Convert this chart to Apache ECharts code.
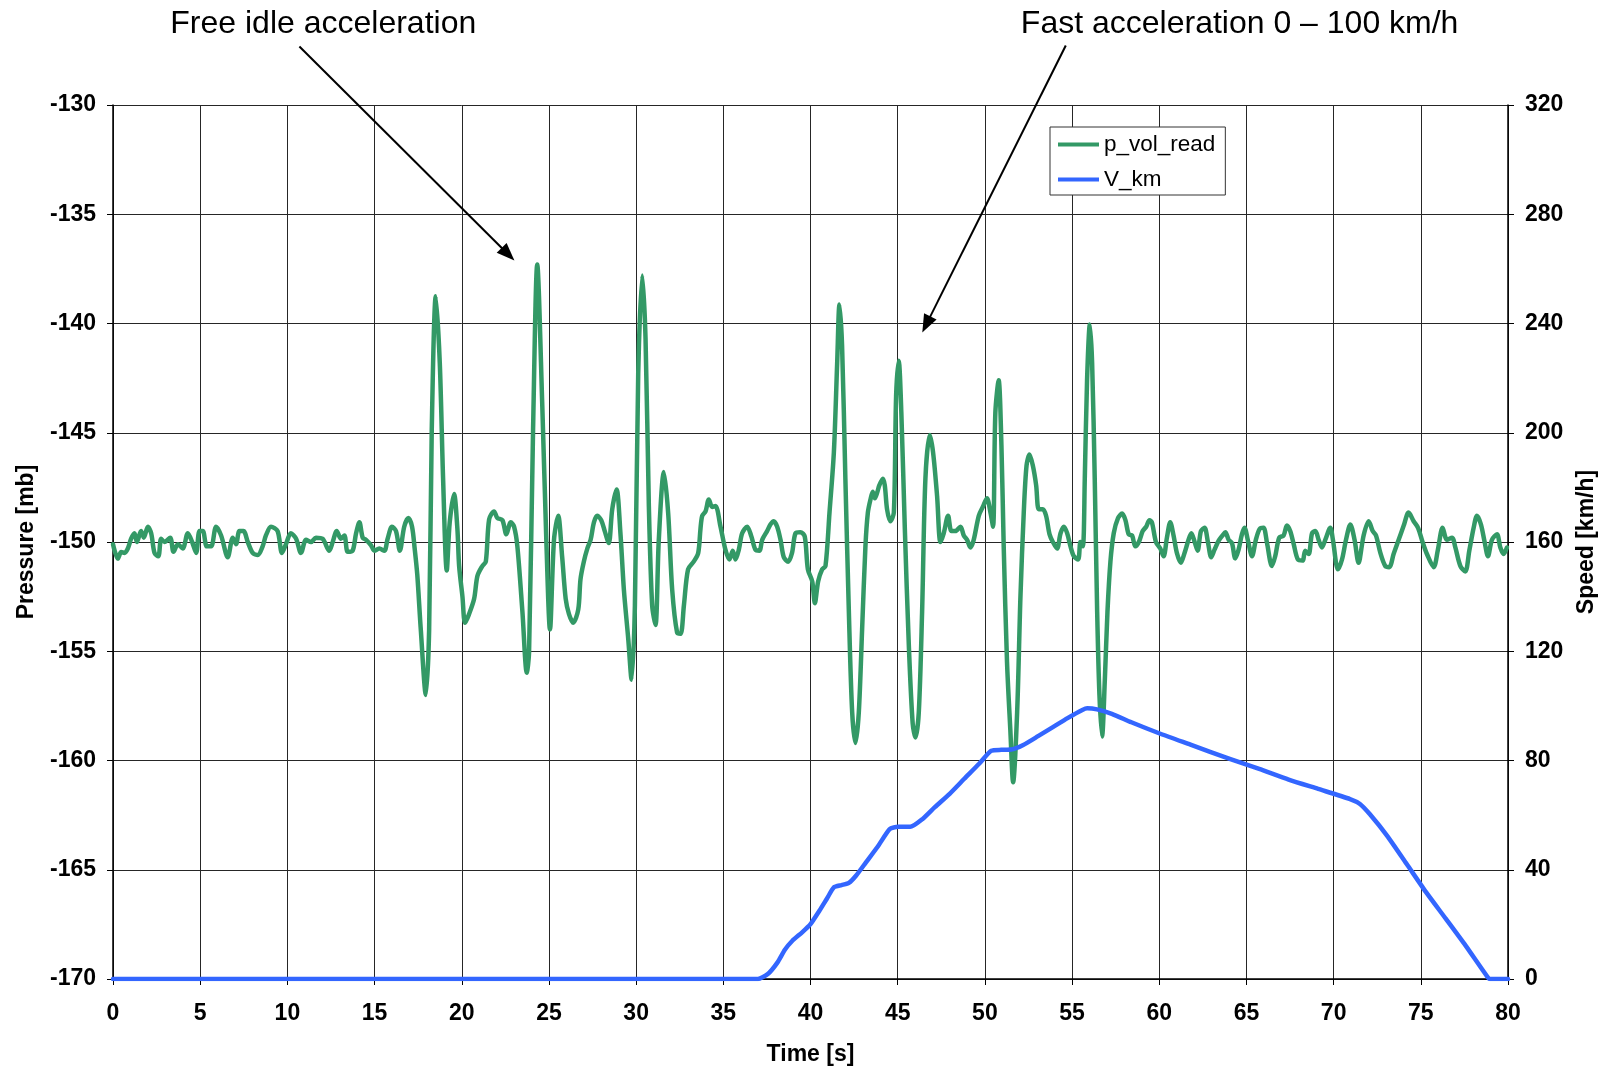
<!DOCTYPE html>
<html><head><meta charset="utf-8">
<script src="https://cdn.jsdelivr.net/npm/echarts@6/dist/echarts.min.js"></script>
<style>html,body{margin:0;padding:0;background:#fff}#c{width:1606px;height:1071px}</style>
</head><body><div id="c"></div>
<script>
// ---- data: p_vol_read (time [s], pressure [mb]) ----
const pTime = [0,0.28,0.47,0.66,0.85,1.04,1.23,1.37,1.61,1.77,2.0,2.19,2.38,2.6,2.76,2.95,3.28,3.47,3.72,4.0,4.29,4.54,4.77,4.96,5.15,5.38,5.63,5.91,6.2,6.58,6.87,7.06,7.25,7.48,7.73,8.01,8.3,8.58,8.77,9.06,9.44,9.69,9.92,10.2,10.5,10.78,11.07,11.36,11.64,12.02,12.4,12.6,12.83,13.07,13.27,13.46,13.74,13.94,14.13,14.32,14.51,14.8,14.99,15.27,15.56,15.75,16.0,16.23,16.45,16.7,16.94,17.15,17.3,17.45,17.65,17.94,18.13,18.28,18.51,18.74,18.93,19.14,19.31,19.56,19.75,19.85,20.04,20.19,20.42,20.71,20.9,21.18,21.38,21.57,21.85,22.04,22.33,22.56,22.81,23.0,23.19,23.48,23.73,23.86,24.09,24.33,24.62,24.85,25.06,25.29,25.53,25.76,25.96,26.15,26.39,26.68,26.81,27.0,27.2,27.39,27.58,27.77,28.0,28.2,28.43,28.63,28.88,29.1,29.3,29.55,29.74,29.93,30.12,30.35,30.54,30.73,30.92,31.11,31.3,31.59,31.84,32.07,32.35,32.55,32.74,32.98,33.3,33.56,33.69,33.79,33.98,34.17,34.36,34.55,34.84,35.12,35.35,35.54,35.7,35.89,36.08,36.37,36.61,36.84,37.07,37.23,37.51,37.7,37.89,38.09,38.28,38.47,38.72,38.94,39.14,39.42,39.67,39.85,40.1,40.25,40.44,40.67,40.86,41.09,41.34,41.53,41.66,41.81,42.0,42.2,42.39,42.58,42.77,42.96,43.15,43.29,43.44,43.57,43.69,43.82,43.95,44.15,44.26,44.39,44.58,44.78,44.91,45.06,45.21,45.41,45.64,45.86,46.02,46.21,46.4,46.59,46.84,47.03,47.26,47.45,47.64,47.89,48.08,48.31,48.6,48.79,48.98,49.17,49.36,49.65,49.88,50.12,50.32,50.47,50.6,50.79,50.95,51.08,51.27,51.46,51.62,51.85,52.04,52.23,52.39,52.56,52.75,52.94,53.09,53.32,53.51,53.71,53.9,54.14,54.34,54.53,54.72,54.91,55.1,55.35,55.48,55.62,55.73,55.86,56.02,56.15,56.3,56.44,56.57,56.72,56.88,57.03,57.2,57.39,57.64,57.87,58.06,58.25,58.44,58.63,58.83,59.05,59.25,59.44,59.58,59.81,60.06,60.25,60.44,60.63,60.82,61.01,61.24,61.45,61.68,61.84,62.03,62.2,62.39,62.6,62.79,62.98,63.17,63.4,63.63,63.79,63.98,64.17,64.36,64.55,64.74,64.89,65.09,65.32,65.54,65.76,65.98,66.18,66.46,66.65,66.88,67.13,67.32,67.51,67.71,67.95,68.22,68.37,68.57,68.76,68.95,69.14,69.33,69.52,69.81,69.96,70.25,70.48,70.71,70.96,71.2,71.43,71.72,72.01,72.24,72.43,72.68,72.96,73.19,73.44,73.73,74.02,74.3,74.59,74.84,75.1,75.35,75.74,75.98,76.25,76.5,76.79,76.98,77.27,77.55,77.78,78.03,78.22,78.45,78.66,78.85,79.08,79.37,79.56,79.75,79.94];
const pValue = [-150.1,-150.76,-150.46,-150.5,-150.3,-149.85,-149.6,-150.0,-149.5,-149.8,-149.3,-149.6,-150.5,-150.65,-149.85,-150.0,-149.8,-150.45,-150.1,-150.3,-149.6,-150.0,-150.5,-149.5,-149.5,-150.2,-150.2,-149.3,-149.7,-150.7,-149.8,-150.1,-149.5,-149.5,-150.0,-150.5,-150.6,-150.2,-149.7,-149.3,-149.5,-150.5,-150.1,-149.6,-149.85,-150.5,-149.9,-150.0,-149.8,-149.85,-150.4,-150.0,-149.5,-149.85,-149.7,-150.45,-150.4,-149.6,-149.1,-149.8,-149.9,-150.15,-150.4,-150.3,-150.4,-149.85,-149.3,-149.5,-150.4,-149.3,-148.9,-149.3,-150.3,-151.5,-154.0,-157.0,-154.0,-144.85,-138.75,-141.8,-147.1,-151.3,-149.1,-147.8,-149.4,-151.1,-152.5,-153.7,-153.3,-152.6,-151.55,-151.1,-150.9,-148.96,-148.6,-148.9,-149.0,-149.65,-149.1,-149.3,-150.2,-153.2,-155.98,-155.06,-144.85,-137.3,-143.8,-149.9,-154.0,-149.9,-148.8,-150.7,-152.6,-153.3,-153.7,-153.1,-151.7,-150.9,-150.3,-149.9,-149.1,-148.8,-149.0,-149.5,-150.05,-148.5,-147.6,-149.6,-152.2,-154.45,-156.3,-152.9,-142.3,-137.8,-140.7,-148.35,-152.9,-153.8,-149.9,-146.8,-148.7,-152.2,-154.15,-154.2,-152.9,-151.25,-150.9,-150.5,-149.4,-148.8,-148.6,-148.05,-148.4,-148.35,-149.3,-150.35,-150.8,-150.4,-150.8,-150.35,-149.6,-149.3,-149.75,-150.35,-150.4,-149.9,-149.5,-149.2,-149.05,-149.3,-149.9,-150.7,-150.9,-150.5,-149.6,-149.55,-149.75,-151.25,-151.8,-152.8,-151.8,-151.25,-151.1,-148.65,-145.9,-141.8,-139.13,-141.0,-147.1,-153.2,-157.8,-159.2,-157.8,-154.0,-150.2,-148.65,-148.05,-147.7,-148.0,-147.75,-147.4,-147.1,-147.4,-148.5,-149.05,-148.65,-143.3,-141.7,-144.1,-149.4,-154.75,-158.3,-158.95,-157.8,-153.2,-147.1,-145.1,-145.9,-147.9,-150.0,-149.6,-148.8,-149.5,-149.5,-149.3,-149.7,-149.9,-150.25,-149.9,-148.8,-148.4,-148.0,-148.65,-149.3,-144.1,-142.6,-145.6,-150.2,-155.5,-158.6,-161.0,-157.8,-152.5,-148.65,-146.5,-146.0,-146.5,-147.4,-148.5,-148.5,-148.8,-149.65,-150.0,-150.3,-149.6,-149.3,-149.6,-150.2,-150.65,-150.8,-150.0,-150.2,-147.1,-142.6,-140.05,-141.8,-147.1,-153.2,-157.0,-158.9,-156.3,-153.2,-150.9,-149.6,-148.9,-148.7,-149.0,-149.65,-149.7,-150.2,-150.0,-149.5,-149.3,-149.0,-149.1,-150.0,-150.3,-150.65,-149.8,-149.1,-149.7,-150.5,-150.95,-150.5,-149.9,-149.6,-150.0,-150.4,-149.5,-149.35,-150.0,-150.7,-150.35,-149.95,-149.7,-149.55,-149.9,-150.05,-150.75,-150.35,-149.65,-149.35,-149.95,-150.65,-149.9,-149.4,-149.35,-150.05,-151.1,-150.65,-149.8,-149.7,-149.25,-149.5,-150.1,-150.8,-150.85,-150.4,-150.55,-149.6,-149.5,-149.9,-150.25,-149.9,-149.35,-149.9,-151.25,-150.8,-149.9,-149.2,-149.9,-150.95,-149.7,-149.05,-149.5,-149.7,-150.5,-151.1,-151.15,-150.55,-149.9,-149.25,-148.65,-149.05,-149.35,-150.0,-150.55,-151.15,-150.35,-149.35,-149.9,-149.8,-150.25,-151.1,-151.35,-150.4,-149.35,-148.8,-149.2,-150.0,-150.65,-149.9,-149.65,-150.25,-150.55,-150.25];

// ---- data: V_km (time [s], speed [km/h]) ----
const vTime  = [0,36.98,37.55,38.11,38.53,38.96,39.52,40.0,40.51,40.93,41.35,41.78,42.2,42.62,43.18,43.89,44.54,45.02,45.72,46.43,47.13,47.98,48.82,49.67,50.37,50.94,51.5,52.2,53.05,53.9,54.74,55.59,55.87,56.43,57.28,58.4,60.1,61.79,64.04,65.73,67.42,69.11,70.94,71.51,72.07,73.06,74.19,75.31,76.44,77.57,78.84,78.98,80];
const vValue = [0,0,1.8,6.1,10.7,14.0,17.1,20.1,25.0,29.3,33.6,34.4,35.2,37.9,42.7,48.8,54.9,55.7,55.7,58.6,62.9,67.8,73.3,78.8,83.6,83.9,84.0,85.7,88.9,92.2,95.5,98.5,99.1,98.7,97.1,94.0,89.7,85.8,80.6,76.9,73.0,69.6,65.9,64.1,60.4,52.5,42.1,31.7,22.0,12.2,0.6,0,0];

// ---- annotations (in pressure/time data space) ----
const annoText   = ['Free idle acceleration', 'Fast acceleration 0 \u2013 100 km/h'];
const annoTextAt = [[12.06, -126.32], [64.61, -126.32]];
const annoFrom   = [[10.69, -127.32], [54.64, -127.28]];
const annoTo     = [[23.02, -137.12], [46.41, -140.41]];

const FF = '"Liberation Sans", Arial, Helvetica, sans-serif';
const GREEN = '#339966', BLUE = '#3366FF';

const chart = echarts.init(document.getElementById('c'), null, {renderer: 'canvas'});
const boldLabel = {fontSize: 23, fontWeight: 'bold', color: '#000', fontFamily: FF};
const option = {
  animation: false,
  backgroundColor: '#fff',
  textStyle: {fontFamily: FF},
  grid: {left: 113, right: 97, top: 105, bottom: 91},
  legend: {
    orient: 'vertical', left: 1050, top: 127,
    padding: [6, 10, 4, 8], itemGap: 12, itemWidth: 41, itemHeight: 4,
    icon: 'rect', borderColor: '#333', borderWidth: 1, backgroundColor: '#fff',
    textStyle: {fontSize: 22.5, color: '#000', fontFamily: FF},
    data: ['p_vol_read', 'V_km']
  },
  xAxis: {
    type: 'value', min: 0, max: 80, interval: 5,
    name: 'Time [s]', nameLocation: 'middle', nameGap: 64,
    nameTextStyle: boldLabel,
    axisLine: {show: true, onZero: false, lineStyle: {color: '#000', width: 1.5}},
    axisTick: {show: true, inside: false, length: 6, lineStyle: {color: '#000'}},
    axisLabel: Object.assign({margin: 23}, boldLabel),
    splitLine: {show: true, lineStyle: {color: '#262626', width: 1}}
  },
  yAxis: [{
    type: 'value', min: -170, max: -130, interval: 5, position: 'left',
    name: 'Pressure [mb]', nameLocation: 'middle', nameRotate: 90, nameGap: 75,
    nameTextStyle: boldLabel,
    axisLine: {show: true, lineStyle: {color: '#000', width: 1.5}},
    axisTick: {show: true, inside: false, length: 6, lineStyle: {color: '#000'}},
    axisLabel: Object.assign({margin: 17}, boldLabel),
    splitLine: {show: true, lineStyle: {color: '#262626', width: 1}}
  }, {
    type: 'value', min: 0, max: 320, interval: 40, position: 'right',
    name: 'Speed [km/h]', nameLocation: 'middle', nameRotate: 90, nameGap: 67,
    nameTextStyle: boldLabel,
    axisLine: {show: true, lineStyle: {color: '#000', width: 1.5}},
    axisTick: {show: true, inside: false, length: 6, lineStyle: {color: '#000'}},
    axisLabel: Object.assign({margin: 17}, boldLabel),
    splitLine: {show: false}
  }],
  series: [{
    name: 'p_vol_read', type: 'line', yAxisIndex: 0,
    data: pTime.map((t, i) => [t, pValue[i]]),
    showSymbol: false, symbol: 'none', smooth: 0.3,
    lineStyle: {color: GREEN, width: 4.5, cap: 'round', join: 'round'},
    itemStyle: {color: GREEN}, z: 2
  }, {
    name: 'V_km', type: 'line', yAxisIndex: 1,
    data: vTime.map((t, i) => [t, vValue[i]]),
    showSymbol: false, symbol: 'none', smooth: 0.2,
    lineStyle: {color: BLUE, width: 4.5, cap: 'round', join: 'round'},
    itemStyle: {color: BLUE}, z: 3
  }]
};
chart.setOption(option);

// annotations: text + arrows positioned through the chart's own scales
const toPx = (pt) => chart.convertToPixel({xAxisIndex: 0, yAxisIndex: 0}, pt);
const graphics = [];
annoText.forEach((txt, i) => {
  const c = toPx(annoTextAt[i]);
  graphics.push({type: 'text', x: c[0], y: c[1], z: 10, style: {
    text: txt, fontSize: 32, fontFamily: FF, fill: '#000',
    align: 'center', verticalAlign: 'middle', textAlign: 'center', textVerticalAlign: 'middle'}});
  const a = toPx(annoFrom[i]), b = toPx(annoTo[i]);
  const dx = b[0] - a[0], dy = b[1] - a[1], L = Math.hypot(dx, dy);
  const ux = dx / L, uy = dy / L, hl = 18, hw = 7;
  const bx = b[0] - ux * hl, by = b[1] - uy * hl;
  graphics.push({type: 'line', z: 10, shape: {x1: a[0], y1: a[1], x2: bx + ux * 2, y2: by + uy * 2},
    style: {stroke: '#000', lineWidth: 2}});
  graphics.push({type: 'polygon', z: 10, shape: {points: [
    [b[0], b[1]], [bx - uy * hw, by + ux * hw], [bx + uy * hw, by - ux * hw]]},
    style: {fill: '#000'}});
});
chart.setOption({graphic: graphics});
</script>
</body></html>
